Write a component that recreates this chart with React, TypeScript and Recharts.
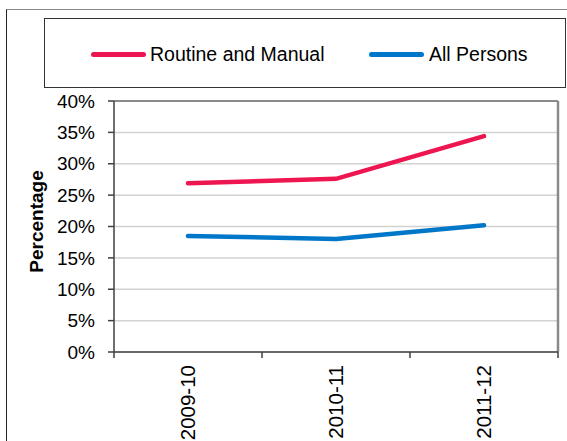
import React from "react";
import {
  LineChart,
  Line,
  XAxis,
  YAxis,
  CartesianGrid,
  ReferenceLine,
} from "recharts";

const years = ["2009-10", "2010-11", "2011-12"];
const routineManual = [26.9, 27.6, 34.4];
const allPersons = [18.5, 18.0, 20.2];
const yTicks = [0, 5, 10, 15, 20, 25, 30, 35, 40];
const seriesNames = ["Routine and Manual", "All Persons"];

const RED = "#ee1651";
const BLUE = "#0077c8";
const FONT = "'Liberation Sans', Arial, sans-serif";

// categories sit in the middle of each band, ticks mark the band edges
const data = years.map((y, i) => ({
  x: i + 0.5,
  year: y,
  routine: routineManual[i],
  all: allPersons[i],
}));

function XTick({ x, y, payload }: any) {
  const v = payload.value as number;
  if (Number.isInteger(v)) {
    return <line x1={x} x2={x} y1={y - 13} y2={y - 7} stroke="#404040" strokeWidth={1.5} />;
  }
  const label = years[Math.floor(v)];
  return (
    <text
      x={x}
      y={y}
      dy="0.36em"
      transform={`rotate(-90 ${x} ${y})`}
      textAnchor="end"
      fontSize={20.5}
      fontFamily={FONT}
      fill="#000"
    >
      {label}
    </text>
  );
}

function YLabel({ viewBox }: any) {
  const cy = viewBox.y + viewBox.height / 2 - 5;
  const cx = 36;
  return (
    <text
      x={cx}
      y={cy}
      dy="0.36em"
      transform={`rotate(-90 ${cx} ${cy})`}
      textAnchor="middle"
      fontSize={19}
      fontWeight="bold"
      fontFamily={FONT}
      fill="#000"
    >
      Percentage
    </text>
  );
}

function LegendBox() {
  const items = [
    { name: seriesNames[0], color: RED, lineLeft: 91, textLeft: 150 },
    { name: seriesNames[1], color: BLUE, lineLeft: 369, textLeft: 429 },
  ];
  return (
    <div
      style={{
        position: "absolute",
        left: 44,
        top: 18,
        width: 520,
        height: 68,
        border: "1.5px solid #333",
        background: "#fff",
      }}
    >
      {items.map((it) => (
        <React.Fragment key={it.name}>
          <div
            style={{
              position: "absolute",
              left: it.lineLeft - 45,
              top: 33,
              width: 55,
              height: 4.5,
              borderRadius: 3,
              background: it.color,
            }}
          />
          <div
            style={{
              position: "absolute",
              left: it.textLeft - 45,
              top: 23,
              fontSize: 19.5,
              lineHeight: "24px",
              fontFamily: FONT,
              color: "#000",
              whiteSpace: "nowrap",
            }}
          >
            {it.name}
          </div>
        </React.Fragment>
      ))}
    </div>
  );
}

export default function App() {
  return (
    <div
      style={{
        position: "absolute",
        left: 0,
        top: 0,
        width: 567,
        height: 441,
        overflow: "hidden",
        background: "#fff",
      }}
    >
      <div
        style={{
          position: "absolute",
          left: 6,
          top: 9,
          width: 620,
          height: 520,
          borderTop: "1.5px solid #8a8a8a",
          borderLeft: "1.5px solid #222",
        }}
      />
      <div style={{ position: "absolute", left: 0, top: 0 }}>
        <LineChart
          width={567}
          height={441}
          data={data}
          margin={{ top: 101, right: 9, left: 34, bottom: 0 }}
        >
          <CartesianGrid horizontal vertical={false} stroke="#d2d2d2" strokeWidth={1.5} />
          <XAxis
            dataKey="x"
            type="number"
            domain={[0, 3]}
            ticks={[0, 0.5, 1, 1.5, 2, 2.5, 3]}
            interval={0}
            height={89}
            tickSize={6}
            tickMargin={7}
            tickLine={false}
            axisLine={{ stroke: "#404040", strokeWidth: 1.5 }}
            tick={<XTick />}
          />
          <YAxis
            domain={[0, 40]}
            ticks={yTicks}
            interval={0}
            width={80}
            tickSize={6}
            tickMargin={13}
            tickFormatter={(v: number) => `${v}%`}
            tick={{ fontSize: 19, fill: "#000", fontFamily: FONT }}
            tickLine={{ stroke: "#404040", strokeWidth: 1.5 }}
            axisLine={{ stroke: "#404040", strokeWidth: 1.5 }}
            label={<YLabel />}
          />
          <ReferenceLine y={40} stroke="#8a8a8a" strokeWidth={2} />
          <ReferenceLine x={3} stroke="#8a8a8a" strokeWidth={2.5} />
          <Line
            type="linear"
            dataKey="routine"
            name={seriesNames[0]}
            stroke={RED}
            strokeWidth={4.5}
            strokeLinecap="round"
            dot={false}
            isAnimationActive={false}
          />
          <Line
            type="linear"
            dataKey="all"
            name={seriesNames[1]}
            stroke={BLUE}
            strokeWidth={4.5}
            strokeLinecap="round"
            dot={false}
            isAnimationActive={false}
          />
        </LineChart>
      </div>
      <LegendBox />
    </div>
  );
}
